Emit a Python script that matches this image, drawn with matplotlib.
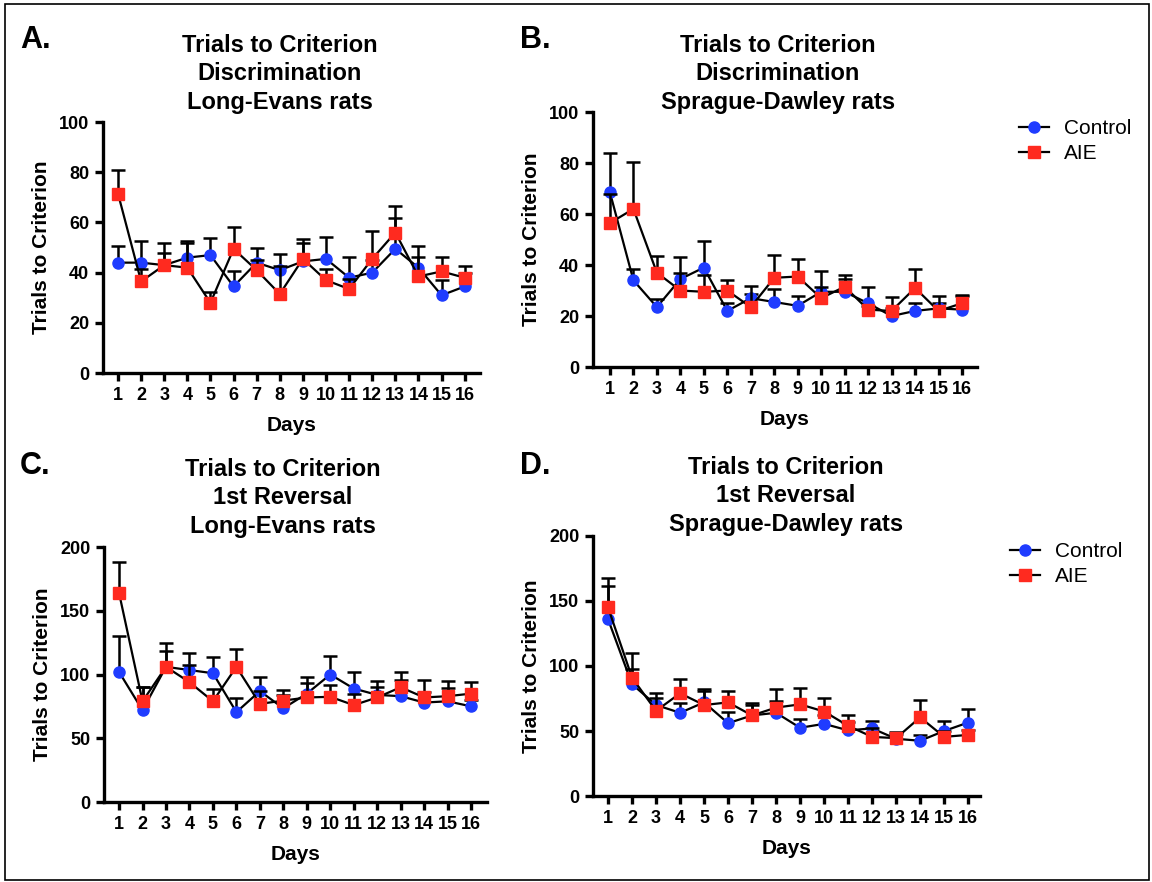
import numpy as np
import matplotlib.pyplot as plt
from matplotlib.patches import Rectangle

plt.rcParams['font.family'] = ['Liberation Sans', 'DejaVu Sans']

days = np.arange(1, 17)

# A. discrimination, Long-Evans
a_ctrl = [44, 44, 43, 46, 47, 34.5, 44, 41, 44.5, 45.5, 38, 40, 49.5, 42, 31, 34.5]
a_ctrl_sem = [6.5, 8.5, 5, 6, 7, 6, 6, 6.5, 7.3, 8.7, 8.2, 5, 12.3, 8.6, 6.2, 5.3]
a_aie = [71.5, 36.5, 43, 42, 28, 49.5, 41, 31.5, 45.5, 37, 33.5, 45.5, 56, 38.5, 40.5, 38]
a_aie_sem = [9.5, 5, 9, 10.5, 4.5, 8.5, 4, 11, 8, 4.6, 4.1, 11.3, 10.5, 7.7, 5.7, 4.5]

# B. discrimination, Sprague-Dawley
b_ctrl = [68.5, 34, 23.5, 34.5, 39, 22, 27, 25.5, 24, 29.5, 29.5, 25, 20, 22, 23, 22.5]
b_ctrl_sem = [15.5, 4.6, 3, 8.8, 10.4, 3, 1.5, 5.1, 3.9, 8.3, 4.9, 6.3, 3, 3.3, 2, 5.8]
b_aie = [56.5, 62, 37, 30, 29.5, 30, 23.5, 35, 35.5, 27, 31.5, 22.5, 22, 31, 22, 25]
b_aie_sem = [11.2, 18.4, 6.6, 7, 6.6, 4.2, 8.3, 8.9, 6.7, 4.5, 4.6, 1.5, 5.4, 7.5, 5.9, 3]

# C. 1st reversal, Long-Evans
c_ctrl = [102, 72, 106, 103.5, 101, 70.5, 87, 73.5, 85, 100, 89, 84, 83, 78, 79, 75]
c_ctrl_sem = [28, 18, 19, 13, 13, 11, 10.8, 14.5, 12.8, 14.5, 12.7, 11, 12.7, 8, 10.6, 5]
c_aie = [164, 79, 106, 94, 79, 106, 77, 79.5, 82, 82.5, 76, 82, 90, 82, 83, 85]
c_aie_sem = [24, 11, 12.7, 13.5, 9.3, 14, 10, 4.5, 11.6, 9.2, 9, 8, 11.7, 13.7, 12.1, 9.4]

# D. 1st reversal, Sprague-Dawley
d_ctrl = [136, 86, 70, 64, 72, 56, 62, 64, 52.5, 55.5, 50.5, 52, 44, 42.5, 50, 56.5]
d_ctrl_sem = [25.5, 11.7, 9, 7.8, 9, 8.4, 8, 9, 6.7, 6.5, 6.5, 5.7, 4, 4.4, 7.9, 10.4]
d_aie = [145, 91, 65.5, 79, 70, 72, 62, 68, 70.5, 65, 54, 45.5, 44.5, 60.5, 45.5, 47]
d_aie_sem = [22.4, 19.3, 9.5, 11, 12.3, 8.8, 9.8, 14.3, 12.3, 10.1, 8.3, 6.5, 4.5, 13.3, 4.5, 3.8]

BLUE = '#1f3cff'
RED = '#ff2a1f'

panels = [
    # label, title, ctrl, ctrl_sem, aie, aie_sem, ymax, ystep, axes rect, xlim, title x, title y
    ("A.", "Trials to Criterion\nDiscrimination\nLong-Evans rats",
     a_ctrl, a_ctrl_sem, a_aie, a_aie_sem, 100, 20,
     [0.0894, 0.577, 0.327, 0.2846], (0.35, 16.65), 280, 34),
    ("B.", "Trials to Criterion\nDiscrimination\nSprague-Dawley rats",
     b_ctrl, b_ctrl_sem, b_aie, b_aie_sem, 100, 20,
     [0.5148, 0.5839, 0.3333, 0.289], (0.28, 16.64), 778, 34),
    ("C.", "Trials to Criterion\n1st Reversal\nLong-Evans rats",
     c_ctrl, c_ctrl_sem, c_aie, c_aie_sem, 200, 50,
     [0.0903, 0.0907, 0.3325, 0.2891], (0.36, 16.68), 283, 458),
    ("D.", "Trials to Criterion\n1st Reversal\nSprague-Dawley rats",
     d_ctrl, d_ctrl_sem, d_aie, d_aie_sem, 200, 50,
     [0.5148, 0.0975, 0.336, 0.2948], (0.375, 16.5), 786, 456),
]
label_pos = {"A.": (20, 40), "B.": (520, 40), "C.": (20, 466), "D.": (520, 466)}
legend_anchor = {"B.": (1019, 119), "D.": (1010, 542)}

W, H = 1152, 882
fig = plt.figure(figsize=(W / 100, H / 100), dpi=100)
fig.patches.append(Rectangle((5 / W, 2 / H), 1 - 8 / W, 1 - 6 / H, transform=fig.transFigure,
                             fill=False, edgecolor='black', linewidth=1.2))


def draw_series(ax, y, sem, marker, color, ms, z):
    lo = np.zeros(len(y))
    line, caps, bars = ax.errorbar(days, y, yerr=[lo, sem], fmt='-', color='black', lw=1.6,
                                   marker=marker, mfc=color, mec=color, ms=ms,
                                   ecolor='black', elinewidth=1.8, capsize=5, capthick=1.8,
                                   zorder=z, clip_on=False)
    caps[0].set_visible(False)
    return line


for lab, title, ctrl, csem, aie, asem, ymax, ystep, rect, xlim, tx, ty in panels:
    ax = fig.add_axes(rect)
    h1 = draw_series(ax, ctrl, csem, 'o', BLUE, 8, 3)
    h2 = draw_series(ax, aie, asem, 's', RED, 8.5, 4)
    ax.set_xlim(*xlim)
    ax.set_ylim(0, ymax)
    ax.set_xticks(days)
    ax.set_yticks(np.arange(0, ymax + 1, ystep))
    for s in ['top', 'right']:
        ax.spines[s].set_visible(False)
    for s in ['left', 'bottom']:
        ax.spines[s].set_linewidth(2.4)
    ax.tick_params(width=2.4, length=6, labelsize=13, pad=4)
    for t in ax.get_xticklabels() + ax.get_yticklabels():
        t.set_fontweight('bold')
    ax.set_xlabel('Days', fontsize=15, fontweight='bold', labelpad=9)
    ax.set_ylabel('Trials to Criterion', fontsize=15, fontweight='bold', labelpad=6)
    fig.text(tx / W, 1 - ty / H, title, ha='center', va='top', fontsize=17,
             fontweight='bold', linespacing=1.3)
    lx, ly = label_pos[lab]
    fig.text(lx / W, 1 - ly / H, lab, ha='left', va='center', fontsize=22, fontweight='bold')
    if lab in legend_anchor:
        bx, by = legend_anchor[lab]
        fig.legend([h1, h2], ['Control', 'AIE'], loc='upper left',
                   bbox_to_anchor=(bx / W, 1 - by / H), frameon=False,
                   borderpad=0, borderaxespad=0,
                   fontsize=15, handlelength=1.45, handletextpad=0.7, labelspacing=0.3)

fig.savefig('out.png', dpi=100)
